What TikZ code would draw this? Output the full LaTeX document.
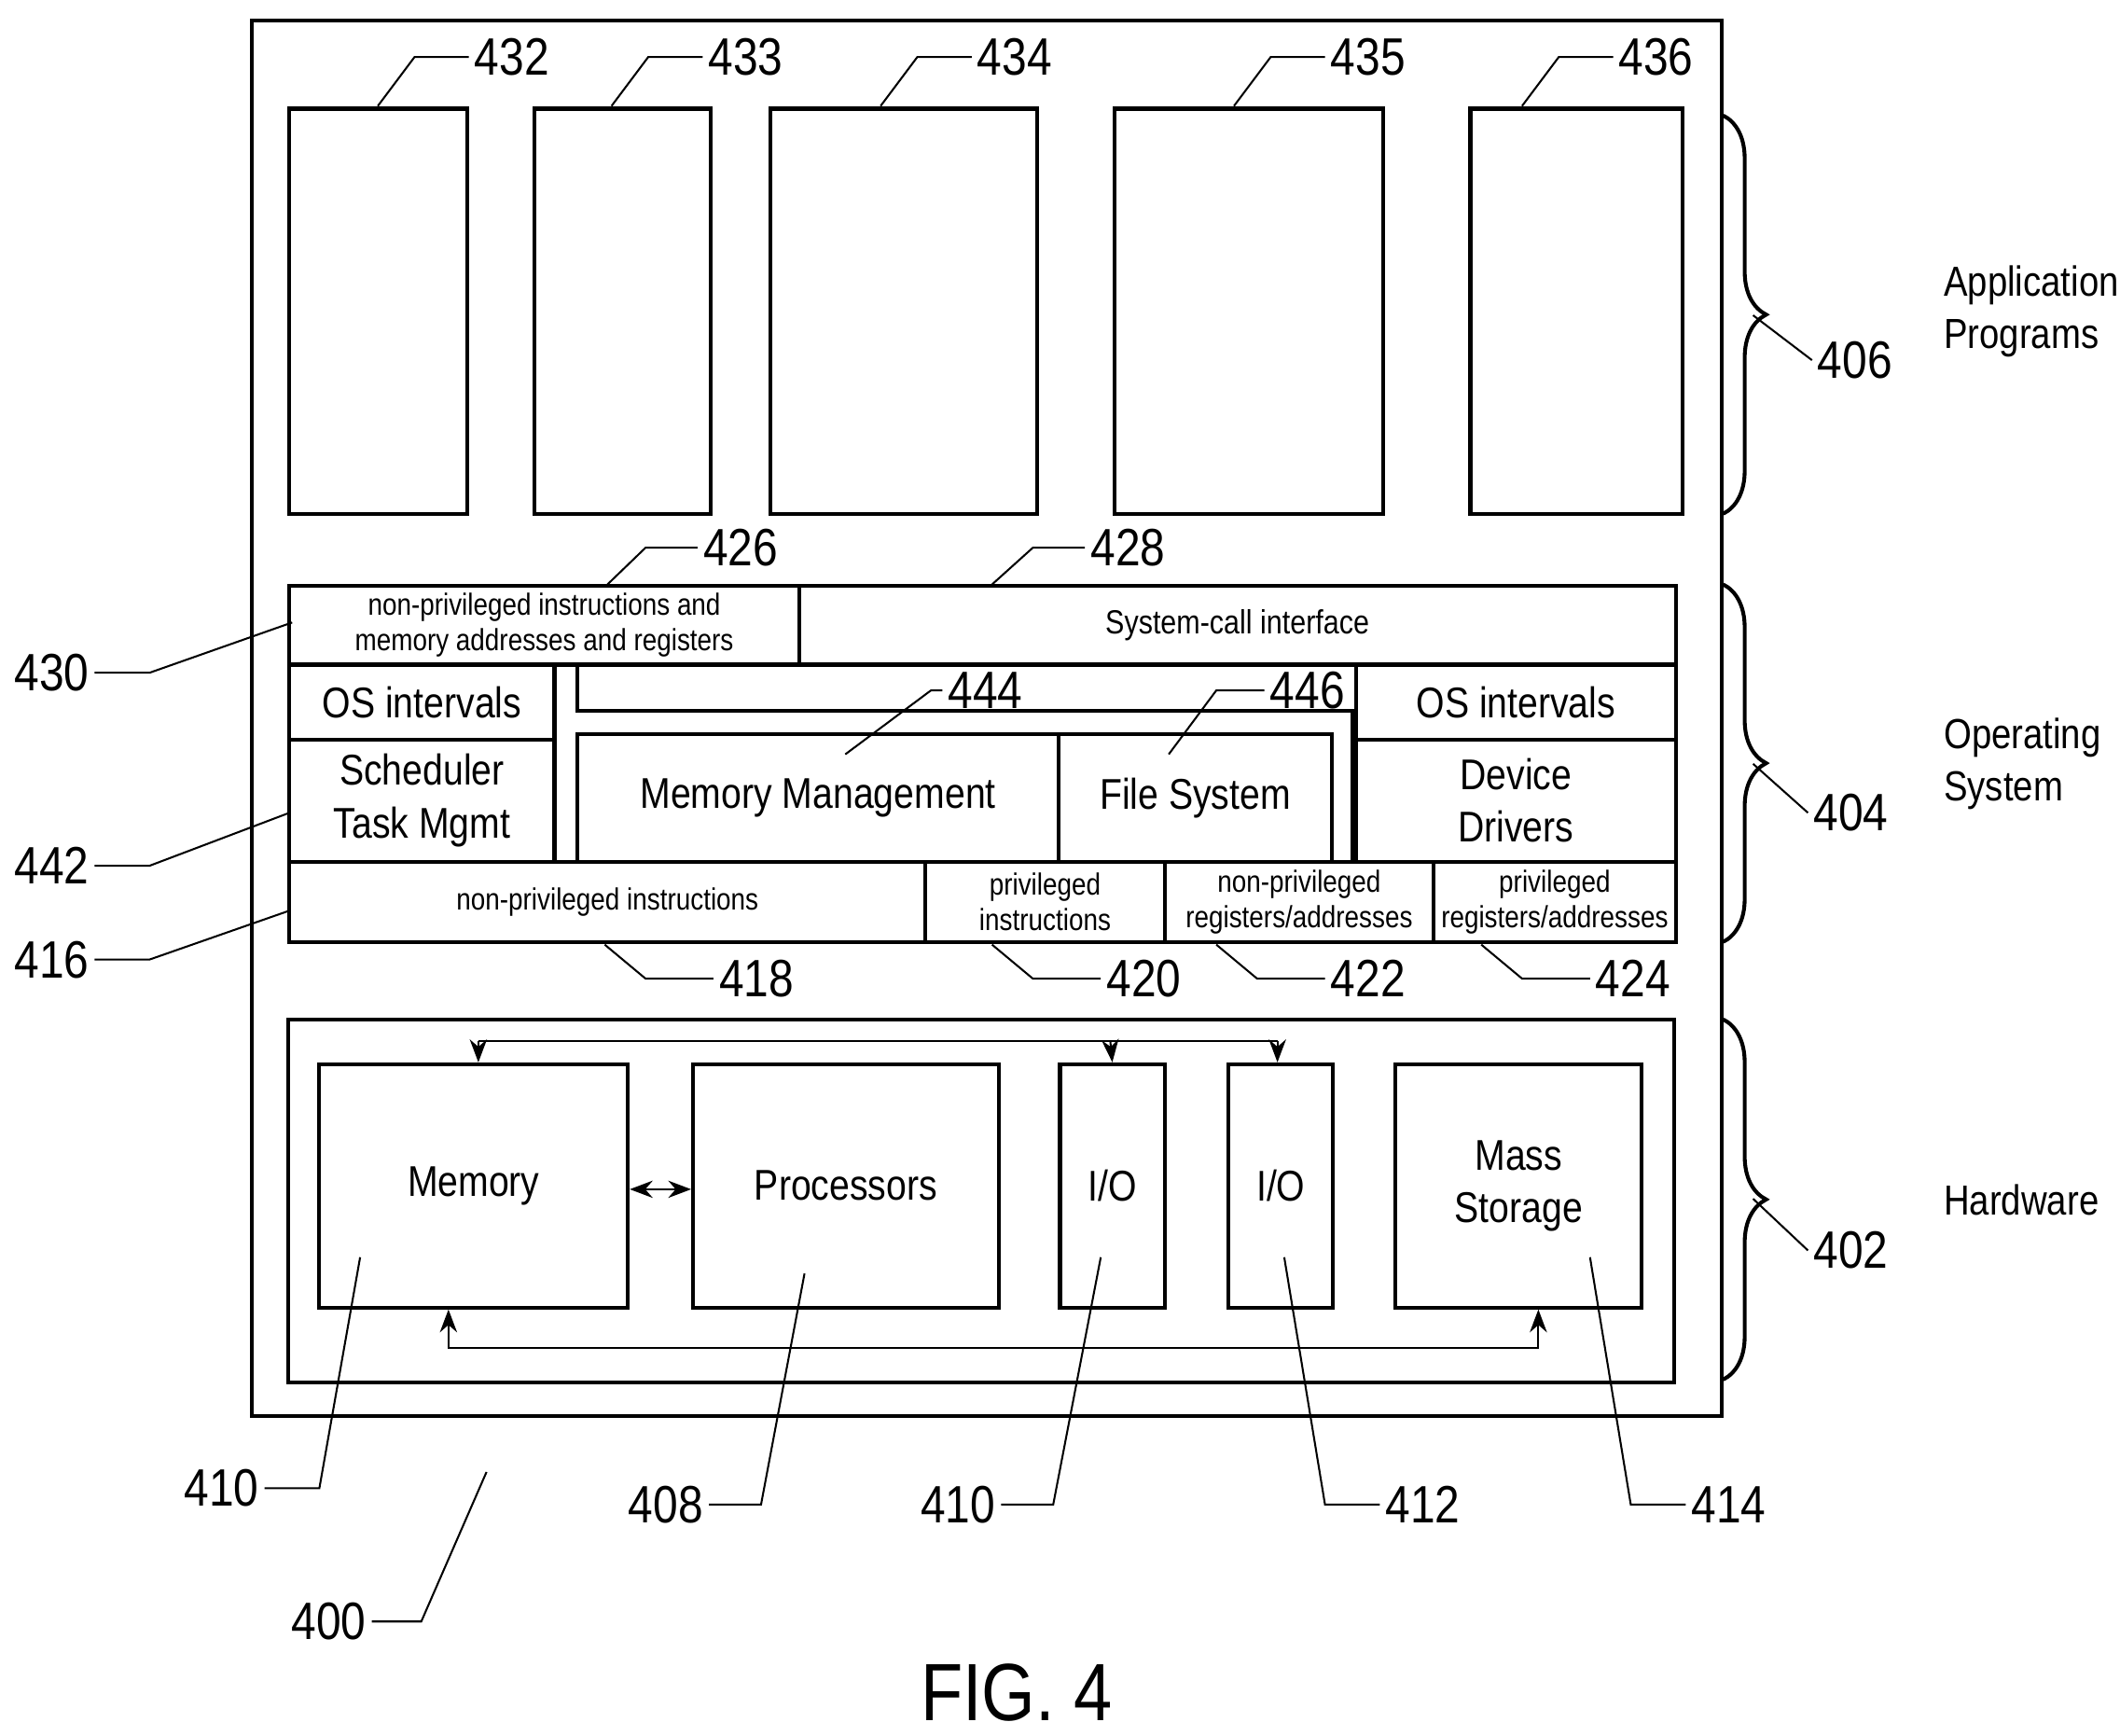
\documentclass[tikz,border=0pt]{standalone}
\usepackage{fontspec}
\setmainfont{Liberation Sans}[FakeStretch=0.85]
\usetikzlibrary{fit,arrows.meta,decorations.pathreplacing}
\tikzset{
  box/.style={draw, thick, inner sep=0pt},
  tx/.style={label={[align=center, font=\fontsize{9}{11}\selectfont]center:#1}},
  stx/.style={label={[align=center, font=\fontsize{6.4}{7.4}\selectfont]center:#1}},
  num/.style={font=\fontsize{11}{13}\selectfont, inner sep=1pt},
  lead/.style={thin},
  brc/.style={thick, decorate, decoration={brace, amplitude=9pt}},
}
\begin{document}
\begin{tikzpicture}[x=0.01cm, y=-0.01cm]
    %% Background
    \useasboundingbox (0,0) rectangle (1560,1277);
    \node[box, fit={(185,15)(1267,1042)}] (sys) {};
    %% Application programs
    \node[box, fit={(213,80)(344,378)}] (p432) {};
    \node[box, fit={(393,80)(523,378)}] (p433) {};
    \node[box, fit={(567,80)(763,378)}] (p434) {};
    \node[box, fit={(820,80)(1018,378)}] (p435) {};
    \node[box, fit={(1082,80)(1238,378)}] (p436) {};
    \foreach \n/\x in {432/278, 433/450, 434/648, 435/908, 436/1120} {
        \node[num, anchor=west] (l\n) at (\x+67,42) {\n};
        \draw[lead] (\x,78) -- (\x+27,42) -- (l\n.west);
    }
    %% Operating system
    \node[box, fit={(213,431)(588,489)}, stx={non-privileged instructions and\\memory addresses and registers}] (npimr) {};
    \node[box, fit={(588,431)(1233,489)}, label={[font=\fontsize{7}{8}\selectfont]center:System-call interface}] (sci) {};
    \node[box, fit={(213,489)(408,544)}, tx={OS intervals}] (osl) {};
    \node[box, fit={(213,544)(408,634)}, tx={Scheduler\\Task Mgmt}] (sched) {};
    \node[box, fit={(998,489)(1233,544)}, tx={OS intervals}] (osr) {};
    \node[box, fit={(998,544)(1233,634)}, tx={Device\\Drivers}] (drv) {};
    \node[box, fit={(425,540)(779,634)}, tx={Memory Management}] (mem) {};
    \node[box, fit={(779,540)(980,634)}, tx={File System}] (fs) {};
    \draw[thick] (425,489) -- (425,523) -- (995,523) -- (995,634);
    \node[box, fit={(213,634)(681,693)}, stx={non-privileged instructions}] (npi) {};
    \node[box, fit={(681,634)(857,693)}, stx={privileged\\instructions}] (pi) {};
    \node[box, fit={(857,634)(1055,693)}, stx={non-privileged\\registers/addresses}] (npra) {};
    \node[box, fit={(1055,634)(1233,693)}, stx={privileged\\registers/addresses}] (pra) {};
    %% OS labels
    \node[num] (l426) at (545,403) {426};
    \draw[lead] (447,430) -- (475,403) -- (l426.west);
    \node[num] (l428) at (830,403) {428};
    \draw[lead] (730,430) -- (760,403) -- (l428.west);
    \node[num] (l444) at (725,508) {444};
    \draw[lead] (622,555) -- (685,508) -- (l444.west);
    \node[num] (l446) at (962,508) {446};
    \draw[lead] (860,555) -- (895,508) -- (l446.west);
    \node[num] (l430) at (38,495) {430};
    \draw[lead] (l430.east) -- (110,495) -- (215,458);
    \node[num] (l442) at (38,637) {442};
    \draw[lead] (l442.east) -- (110,637) -- (213,598);
    \node[num] (l416) at (38,706) {416};
    \draw[lead] (l416.east) -- (110,706) -- (213,670);
    \foreach \n/\x in {418/445, 420/730, 422/895, 424/1090} {
        \node[num, anchor=west] (l\n) at (\x+80,720) {\n};
        \draw[lead] (\x,695) -- (\x+30,720) -- (l\n.west);
    }
    %% Hardware
    \node[box, fit={(212,750)(1232,1017)}] (hw) {};
    \node[box, fit={(235,783)(462,962)}, tx={Memory}] (memory) {};
    \node[box, fit={(510,783)(735,962)}, tx={Processors}] (proc) {};
    \node[box, fit={(780,783)(857,962)}, tx={I/O}] (io1) {};
    \node[box, fit={(904,783)(981,962)}, tx={I/O}] (io2) {};
    \node[box, fit={(1027,783)(1208,962)}, tx={Mass\\Storage}] (mass) {};
    \draw[Stealth-Stealth] (memory.east|-0,875) -- (proc.west|-0,875);
    \draw (352,766) -- (940,766);
    \draw[-Stealth] (352,766) -- (memory.north-|352,0);
    \draw[-Stealth] (817,766) -- (io1.north);
    \draw[-Stealth] (940,766) -- (io2.north-|940,0);
    \draw[Stealth-Stealth] (memory.south-|330,0) -- (330,992) -- (1132,992) -- (mass.south-|1132,0);
    %% Hardware labels
    \node[num] (l410a) at (163,1095) {410};
    \draw[lead] (l410a.east) -- (235,1095) -- (265,925);
    \node[num] (l408) at (490,1107) {408};
    \draw[lead] (l408.east) -- (560,1107) -- (592,937);
    \node[num] (l410b) at (705,1107) {410};
    \draw[lead] (l410b.east) -- (775,1107) -- (810,925);
    \node[num] (l412) at (1047,1107) {412};
    \draw[lead] (945,925) -- (975,1107) -- (l412.west);
    \node[num] (l414) at (1272,1107) {414};
    \draw[lead] (1170,925) -- (1200,1107) -- (l414.west);
    \node[num] (l400) at (242,1193) {400};
    \draw[lead] (l400.east) -- (310,1193) -- (358,1083);
    %% Braces
    \draw[brc] (1268,85) -- (1268,378);
    \draw[brc] (1268,430) -- (1268,693);
    \draw[brc] (1268,750) -- (1268,1015);
    \node[num] (l406) at (1365,265) {406};
    \node[num] (l404) at (1362,598) {404};
    \node[num] (l402) at (1362,920) {402};
    \draw[lead] (1290,232) -- (l406.west);
    \draw[lead] (1290,562) -- (l404.west);
    \draw[lead] (1290,882) -- (l402.west);
    \node[anchor=west, align=left, font=\fontsize{8.8}{11}\selectfont] (tapp) at (1418,229) {Application\\Programs};
    \node[anchor=west, align=left, font=\fontsize{8.8}{11}\selectfont] (tos) at (1418,562) {Operating\\System};
    \node[anchor=west, font=\fontsize{8.8}{11}\selectfont] (thw) at (1418,883) {Hardware};
    \node[font=\fontsize{17}{20}\selectfont] (fig) at (748,1245) {FIG. 4};
\end{tikzpicture}
\end{document}
